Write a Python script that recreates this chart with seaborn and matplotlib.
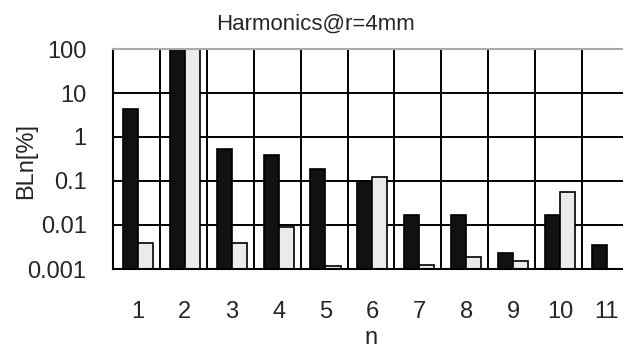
import numpy as np
import pandas as pd
import seaborn as sns
import matplotlib
matplotlib.use("Agg")
import matplotlib.pyplot as plt
from matplotlib.ticker import FixedLocator, NullFormatter

# harmonic orders and the two series (values in %)
orders = ["1", "2", "3", "4", "5", "6", "7", "8", "9", "10", "11"]
black_vals = [4.4, 100, 0.53, 0.38, 0.19, 0.098, 0.017, 0.017, 0.0023, 0.017, 0.0035]
grey_vals = [0.0039, 100, 0.0039, 0.0088, 0.0012, 0.125, 0.00125, 0.0019, 0.00155, 0.055, np.nan]
ytick_vals = [0.001, 0.01, 0.1, 1, 10, 100]
ytick_labels = ["0.001", "0.01", "0.1", "1", "10", "100"]

df = pd.DataFrame({
    "n": orders * 2,
    "series": ["a"] * len(orders) + ["b"] * len(orders),
    "value": black_vals + grey_vals,
})

sns.set_style("white")
plt.rcParams["font.family"] = ["Liberation Sans", "DejaVu Sans"]

fig = plt.figure(figsize=(6.23, 3.5), dpi=100)
ax = fig.add_axes([113 / 623, 81 / 350, 516 / 623, 220 / 350])
ax.set_yscale("log")

sns.barplot(data=df, x="n", y="value", hue="series", palette=["#111111", "#ebebeb"],
            width=0.64, edgecolor="black", linewidth=1.2, legend=False, ax=ax)

ax.set_ylim(0.001, 100)
ax.set_xlim(-0.53, 10.47)

# grid: horizontal at decades, vertical at category boundaries
ax.yaxis.set_major_locator(FixedLocator(ytick_vals))
ax.set_yticklabels(ytick_labels)
ax.yaxis.set_minor_formatter(NullFormatter())
ax.yaxis.set_minor_locator(FixedLocator([]))
ax.xaxis.set_minor_locator(FixedLocator(np.arange(len(orders)) - 0.53))
ax.grid(True, which="major", axis="y", color="black", linewidth=1.4)
ax.grid(True, which="minor", axis="x", color="black", linewidth=1.4)
ax.grid(False, which="major", axis="x")
ax.set_axisbelow(True)

ax.tick_params(axis="both", which="both", length=0)
ax.tick_params(axis="y", labelsize=17, pad=19)
ax.tick_params(axis="x", labelsize=17, pad=23)

for s in ["left", "bottom"]:
    ax.spines[s].set_color("black")
    ax.spines[s].set_linewidth(1.5)
ax.spines["top"].set_color("#aaaaaa")
ax.spines["top"].set_linewidth(1.5)
ax.spines["right"].set_visible(False)

ax.set_xlabel("")
ax.set_ylabel("")
fig.text(371 / 623, 1 - 344 / 350, "n", fontsize=17, ha="center", va="baseline")
fig.text(26 / 623, 1 - 161 / 350, "BLn[%]", rotation=90, fontsize=17,
         ha="center", va="center")
fig.text(315 / 623, 1 - 24 / 350, "Harmonics@r=4mm", fontsize=16,
         ha="center", va="center")

fig.savefig("out.png", dpi=100)
